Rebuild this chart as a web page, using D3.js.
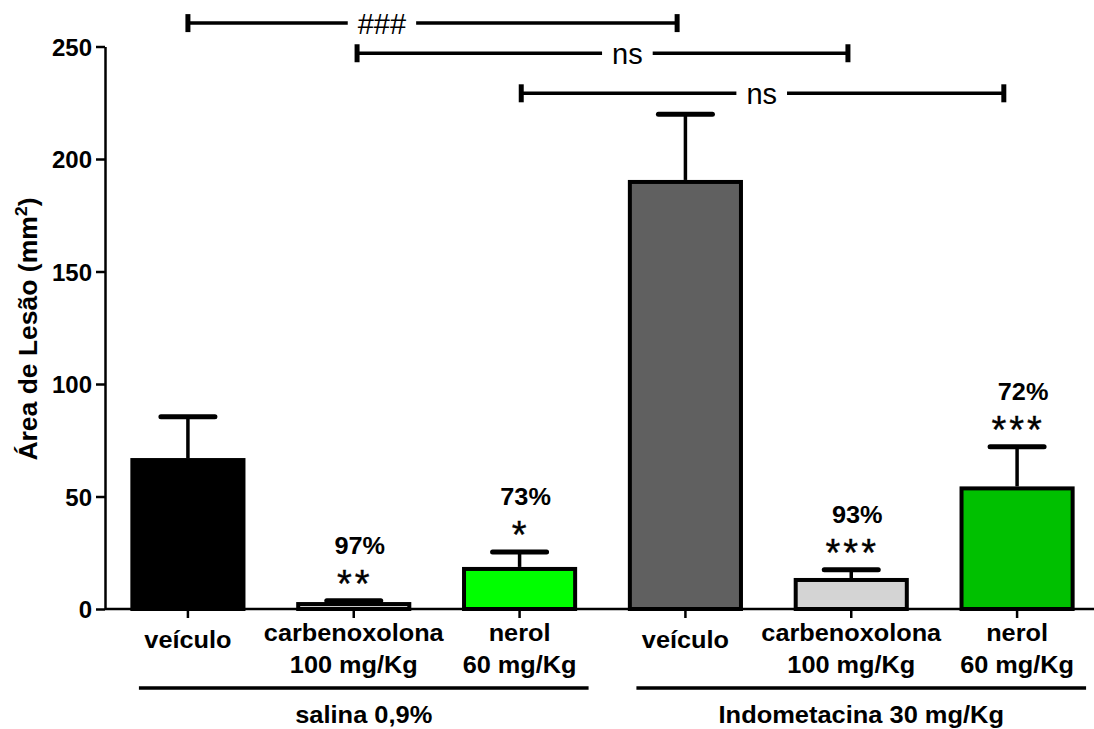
<!DOCTYPE html>
<html>
<head>
<meta charset="utf-8">
<script src="https://cdn.jsdelivr.net/npm/d3@7"></script>
<style>
  html, body { margin: 0; padding: 0; background: #fff; }
  svg { display: block; font-family: "Liberation Sans", Arial, sans-serif; }
</style>
</head>
<body>
<div id="chart"></div>
<script>
// chart values
const labelLines = [
    ["veículo"],
    ["carbenoxolona", "100 mg/Kg"],
    ["nerol", "60 mg/Kg"],
    ["veículo"],
    ["carbenoxolona", "100 mg/Kg"],
    ["nerol", "60 mg/Kg"]
];
const means = [66.2, 2.2, 17.8, 189.8, 12.9, 53.6];
const sems = [19.3, 1.5, 7.5, 30.1, 4.5, 18.5];
const reductions = ["", "97%", "73%", "", "93%", "72%"];
const stars = ["", "**", "*", "", "***", "***"];
const yTicks = [0, 50, 100, 150, 200, 250];

const groupNames = ["salina 0,9%", "Indometacina 30 mg/Kg"];
const groupFirst = [0, 3];
const groupLast = [2, 5];

// comparison brackets: ends and label spot as category index, level in data units
const bracketFrom = [0, 1.02, 2.01];
const bracketTo = [2.95, 3.98, 4.92];
const bracketLevel = [260.4, 247, 229.2];
const bracketLabel = ["###", "ns", "ns"];
const bracketLabelAt = [1.17, 2.65, 3.46];

const barColors = ["#000000", "#d4d4d4", "#00ff00", "#606060", "#d4d4d4", "#00c000"];

// dimensions
const width = 1094, height = 729;

const svg = d3.select("#chart")
    .append("svg")
    .attr("width", width)
    .attr("height", height);

// scales
const x = d3.scaleBand()
    .domain(d3.range(means.length))
    .range([105, 1100])
    .paddingInner(0.33)
    .paddingOuter(0.165);
const cx = i => x(i) + x.bandwidth() / 2;
const xi = d3.scaleLinear()
    .domain([0, means.length - 1])
    .range([cx(0), cx(means.length - 1)]);
const y = d3.scaleLinear().domain([0, 250]).range([609, 46.5]);

// text with a slight horizontal stretch, like the original font
function stretchText(parent, px, py, str, size, weight, sx, anchor) {
    return parent.append("text")
        .attr("transform", `translate(${px},${py}) scale(${sx},1)`)
        .attr("text-anchor", anchor || "middle")
        .style("font-size", size + "px")
        .style("font-weight", weight)
        .text(str);
}

// y axis
const yAxis = svg.append("g")
    .attr("transform", "translate(105,0)")
    .call(d3.axisLeft(y).tickValues(yTicks).tickSize(9).tickPadding(4).tickSizeOuter(0));
yAxis.select(".domain").attr("stroke-width", 2.5);
yAxis.selectAll(".tick line").attr("stroke-width", 2.5);
yAxis.selectAll(".tick text")
    .style("font-size", "24px")
    .style("font-weight", "bold")
    .attr("fill", "#000")
    .attr("dy", "0.36em");

// y title
const title = svg.append("text")
    .attr("transform", "translate(37,329) rotate(-90) scale(1.06,1)")
    .attr("text-anchor", "middle")
    .style("font-size", "25px")
    .style("font-weight", "bold");
title.append("tspan").text("Área de Lesão (mm");
title.append("tspan").attr("dy", -10).style("font-size", "17px").text("2");
title.append("tspan").attr("dy", 10).text(")");

// bars
svg.append("g").selectAll("rect")
    .data(means)
    .join("rect")
    .attr("x", (d, i) => x(i))
    .attr("y", d => y(d))
    .attr("width", x.bandwidth())
    .attr("height", d => y(0) - y(d))
    .attr("fill", (d, i) => barColors[i])
    .attr("stroke", "#000")
    .attr("stroke-width", 4);

// error bars (upper only)
const err = svg.append("g").attr("stroke", "#000");
means.forEach((m, i) => {
    err.append("line")
        .attr("x1", cx(i)).attr("x2", cx(i))
        .attr("y1", y(m) - 2).attr("y2", y(m + sems[i]))
        .attr("stroke-width", 3.5);
    err.append("line")
        .attr("x1", cx(i) - 27).attr("x2", cx(i) + 27)
        .attr("y1", y(m + sems[i])).attr("y2", y(m + sems[i]))
        .attr("stroke-width", 5)
        .attr("stroke-linecap", "round");
});

// x axis line and ticks
svg.append("line")
    .attr("x1", 105).attr("x2", width)
    .attr("y1", y(0)).attr("y2", y(0))
    .attr("stroke", "#000").attr("stroke-width", 2.5);
svg.append("g").selectAll("line")
    .data(means)
    .join("line")
    .attr("x1", (d, i) => cx(i)).attr("x2", (d, i) => cx(i))
    .attr("y1", y(0)).attr("y2", y(0) + 9)
    .attr("stroke", "#000").attr("stroke-width", 2.5);

// category labels
const catG = svg.append("g");
labelLines.forEach((lines, i) => {
    if (lines.length === 1) {
        stretchText(catG, cx(i), 648, lines[0], 23, "bold", 1.1);
    } else {
        lines.forEach((ln, k) => stretchText(catG, cx(i), 641 + k * 32, ln, 23, "bold", 1.1));
    }
});

// group lines and labels
const grpG = svg.append("g");
groupNames.forEach((name, g) => {
    const x1 = cx(groupFirst[g]) - 49, x2 = cx(groupLast[g]) + 69;
    grpG.append("line")
        .attr("x1", x1).attr("x2", x2)
        .attr("y1", 688).attr("y2", 688)
        .attr("stroke", "#000").attr("stroke-width", 3.5);
    stretchText(grpG, (x1 + x2) / 2, 723, name, 24, "bold", 1.06);
});

// percent reductions and significance stars
const annG = svg.append("g");
means.forEach((m, i) => {
    const top = y(m + sems[i]);
    if (reductions[i]) stretchText(annG, cx(i) + 6, top - 47, reductions[i], 23, "bold", 1.1);
    if (stars[i]) {
        annG.append("text")
            .attr("x", cx(i) + 1)
            .attr("y", top - 4)
            .attr("text-anchor", "middle")
            .style("font-size", "38px")
            .style("letter-spacing", "3px")
            .style("stroke", "#000")
            .style("stroke-width", 0.4)
            .text(stars[i]);
    }
});

// comparison brackets
const brG = svg.append("g");
bracketLabel.forEach((lab, b) => {
    const x1 = xi(bracketFrom[b]), x2 = xi(bracketTo[b]);
    const ly = y(bracketLevel[b]);
    const lx = xi(bracketLabelAt[b]);
    const t = brG.append("text")
        .attr("x", lx).attr("y", ly)
        .attr("dy", "0.36em")
        .attr("text-anchor", "middle")
        .style("font-size", "29px")
        .text(lab);
    const half = t.node().getComputedTextLength() / 2 + 10;
    brG.append("line")
        .attr("x1", x1).attr("x2", lx - half)
        .attr("y1", ly).attr("y2", ly)
        .attr("stroke", "#000").attr("stroke-width", 3.5);
    brG.append("line")
        .attr("x1", lx + half).attr("x2", x2)
        .attr("y1", ly).attr("y2", ly)
        .attr("stroke", "#000").attr("stroke-width", 3.5);
    [x1, x2].forEach(ex => brG.append("line")
        .attr("x1", ex).attr("x2", ex)
        .attr("y1", ly - 9).attr("y2", ly + 9)
        .attr("stroke", "#000").attr("stroke-width", 5));
});
</script>
</body>
</html>
